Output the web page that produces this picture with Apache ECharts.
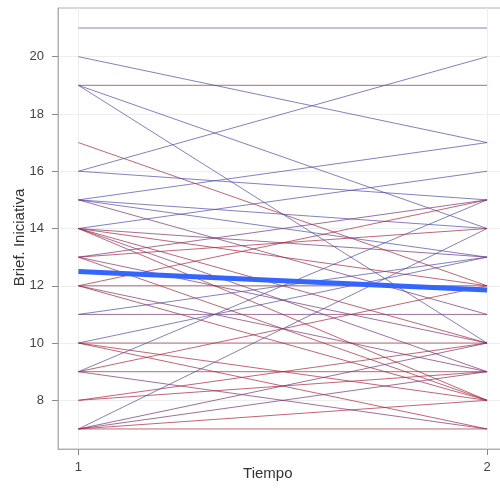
<!DOCTYPE html>
<html>
<head>
<meta charset="utf-8">
<script src="https://cdn.jsdelivr.net/npm/echarts@6/dist/echarts.min.js"></script>
<style>html,body{margin:0;padding:0;background:#fff}#c{width:500px;height:490px}</style>
</head>
<body>
<div id="c"></div>
<script>
// Time points
var times = [1, 2];
// Score at time 1 and time 2 for each subject
var t1 = [21,20,19,19,19,17,16,16,15,15,15,15,14,14,14,14,14,14,13,13,13,13,12,12,12,12,11,11,10,10,10,10,9,9,9,9,8,8,7,7,7,7,7];
var t2 = [21,17,19,14,10,12,20,15,17,13,14,11,16,13,12,10,9,8,14,15,10,8,15,12,9,8,11,13,13,10,8,7,15,9,12,7,10,9,14,10,9,8,7];
// colour group of each subject line (r = red, b = blue, p = purple)
var grp = ['b','b','r','b','b','r','b','b','b','b','b','p','b','p','r','r','p','r','r','p','p','r','r','r','p','r','p','b','b','r','r','r','b','r','r','p','r','r','b','p','p','r','r'];
// Mean trend line
var meanVals = [12.5, 11.85];
var yTicks = [8,10,12,14,16,18,20];

var colorMap = {r:'rgba(170,35,55,0.7)', b:'rgba(75,75,170,0.7)', p:'rgba(120,50,115,0.7)'};
var series = [];
for (var i = 0; i < t1.length; i++) {
  series.push({
    type:'line', silent:true, symbol:'none',
    data:[[times[0], t1[i]], [times[1], t2[i]]],
    lineStyle:{width:1, color:colorMap[grp[i]]}
  });
}
series.push({
  type:'line', silent:true, symbol:'none', z:5,
  data:[[times[0], meanVals[0]], [times[1], meanVals[1]]],
  lineStyle:{width:5, color:'#3366ff'}
});

var chart = echarts.init(document.getElementById('c'), null, {renderer:'canvas'});
chart.setOption({
  animation:false,
  backgroundColor:'#fff',
  grid:{left:58, top:8, bottom:41, right:-7.5, show:true, borderColor:'#b0b0b0', borderWidth:1, containLabel:false, outerBoundsMode:'none'},
  xAxis:{
    type:'value', min:0.95, max:2.05,
    name:'Tiempo', nameLocation:'middle', nameGap:17, nameMoveOverlap:false,
    nameTextStyle:{fontFamily:'Liberation Sans', fontSize:15, color:'#333', padding:[0,30,0,0]},
    axisLine:{show:true, lineStyle:{color:'#b0b0b0'}},
    axisTick:{show:true, customValues:times, length:6, lineStyle:{color:'#888'}},
    axisLabel:{customValues:times, margin:12, fontFamily:'Liberation Sans', fontSize:13, color:'#444'},
    splitLine:{show:true, lineStyle:{color:'#eeeeee', width:1}}
  },
  yAxis:{
    type:'value', min:6.3, max:21.7,
    name:'Brief. Iniciativa', nameLocation:'middle', nameGap:31, nameMoveOverlap:false,
    nameTextStyle:{fontFamily:'Liberation Sans', fontSize:15, color:'#333', padding:[0,18,0,0]},
    axisLine:{show:true, lineStyle:{color:'#b0b0b0'}},
    axisTick:{show:true, customValues:yTicks, length:6, lineStyle:{color:'#888'}},
    axisLabel:{customValues:yTicks, margin:14, fontFamily:'Liberation Sans', fontSize:13, color:'#444'},
    splitLine:{show:true, lineStyle:{color:'#eeeeee', width:1}}
  },
  series:series
});
</script>
</body>
</html>
